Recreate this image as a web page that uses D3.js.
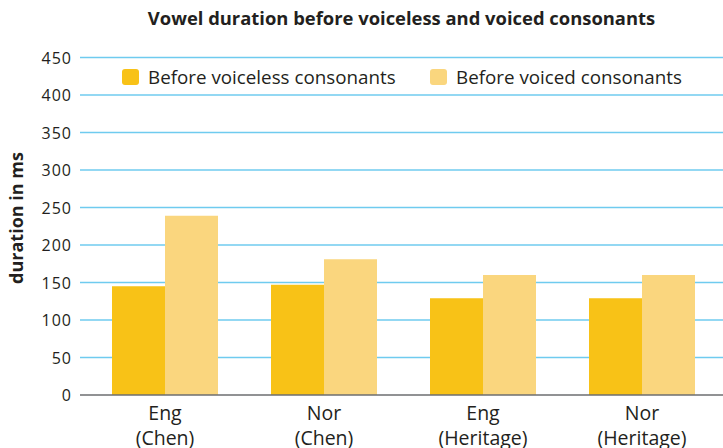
<!DOCTYPE html>
<html><head><meta charset="utf-8">
<script src="https://cdn.jsdelivr.net/npm/d3@7/dist/d3.min.js"></script>
<style>body{margin:0;background:#fff;} svg{display:block;}</style>
</head><body><svg id="c" width="723" height="448"></svg>
<script>
const categories = [["Eng","(Chen)"],["Nor","(Chen)"],["Eng","(Heritage)"],["Nor","(Heritage)"]];
const seriesNames = ["Before voiceless consonants","Before voiced consonants"];
const voiceless = [145, 147, 129, 129];
const voiced = [239, 181, 160, 160];
const yTicks = [0,50,100,150,200,250,300,350,400,450];
const colors = ["#F8C217","#FAD67E"];

const svg = d3.select("#c");
const font = "'Open Sans', sans-serif";
const y = d3.scaleLinear().domain([0,450]).range([395,57.5]);
const x = d3.scaleBand().domain(d3.range(categories.length)).range([85.5,721.5]).paddingInner(1/3).paddingOuter(1/6);
const xs = d3.scaleBand().domain([0,1]).range([0,x.bandwidth()]);

svg.append("text").attr("x",401.5).attr("y",25).attr("text-anchor","middle")
  .attr("font-family",font).attr("font-weight","bold").attr("font-size",18.4).attr("fill","#231f20")
  .text("Vowel duration before voiceless and voiced consonants");

// gridlines
svg.append("g").selectAll("line").data(yTicks.filter(d=>d>0)).join("line")
  .attr("x1",80).attr("x2",723).attr("y1",d=>y(d)).attr("y2",d=>y(d))
  .attr("stroke","#6FCBEF").attr("stroke-width",1.6);

// y axis labels
const yAxis = d3.axisLeft(y).tickValues(yTicks).tickSize(0).tickPadding(0);
const gy = svg.append("g").attr("transform","translate(72,0)").call(yAxis);
gy.select(".domain").remove();
gy.selectAll("text").attr("font-family",font).attr("font-size",16).attr("letter-spacing","1px").attr("fill","#231f20").attr("dy","0.35em");

// bars
const groups = svg.append("g").selectAll("g").data(categories.map((c,i)=>({i,vals:[voiceless[i],voiced[i]]}))).join("g")
  .attr("transform",d=>`translate(${x(d.i)},0)`);
groups.selectAll("rect").data(d=>d.vals.map((v,k)=>({v,k}))).join("rect")
  .attr("x",d=>xs(d.k)).attr("width",xs.bandwidth()).attr("y",d=>y(d.v)).attr("height",d=>y(0)-y(d.v))
  .attr("fill",d=>colors[d.k]);

// baseline
svg.append("line").attr("x1",80).attr("x2",723).attr("y1",y(0)).attr("y2",y(0)).attr("stroke","#6d6e71").attr("stroke-width",1.6);

// x labels
const xl = svg.append("g").selectAll("text").data(categories).join("text")
  .attr("x",(d,i)=>x(i)+x.bandwidth()/2).attr("y",420).attr("text-anchor","middle")
  .attr("font-family",font).attr("font-size",19.5).attr("fill","#231f20");
xl.append("tspan").attr("x",(d,i)=>x(i)+x.bandwidth()/2).text(d=>d[0]);
xl.append("tspan").attr("x",(d,i)=>x(i)+x.bandwidth()/2).attr("dy",25).text(d=>d[1]);

// y title
svg.append("text").attr("transform","translate(23,218) rotate(-90)").attr("text-anchor","middle")
  .attr("font-family",font).attr("font-weight","bold").attr("font-size",18).attr("fill","#231f20").text("duration in ms");

// legend
const legX = [122,430];
const lg = svg.append("g").selectAll("g").data(seriesNames).join("g").attr("transform",(d,i)=>`translate(${legX[i]},69)`);
lg.append("rect").attr("width",17).attr("height",16).attr("rx",3).attr("fill",(d,i)=>colors[i]);
lg.append("text").attr("x",26).attr("y",14.5).attr("font-family",font).attr("font-size",18.8).attr("fill","#231f20").text(d=>d);
</script></body></html>
